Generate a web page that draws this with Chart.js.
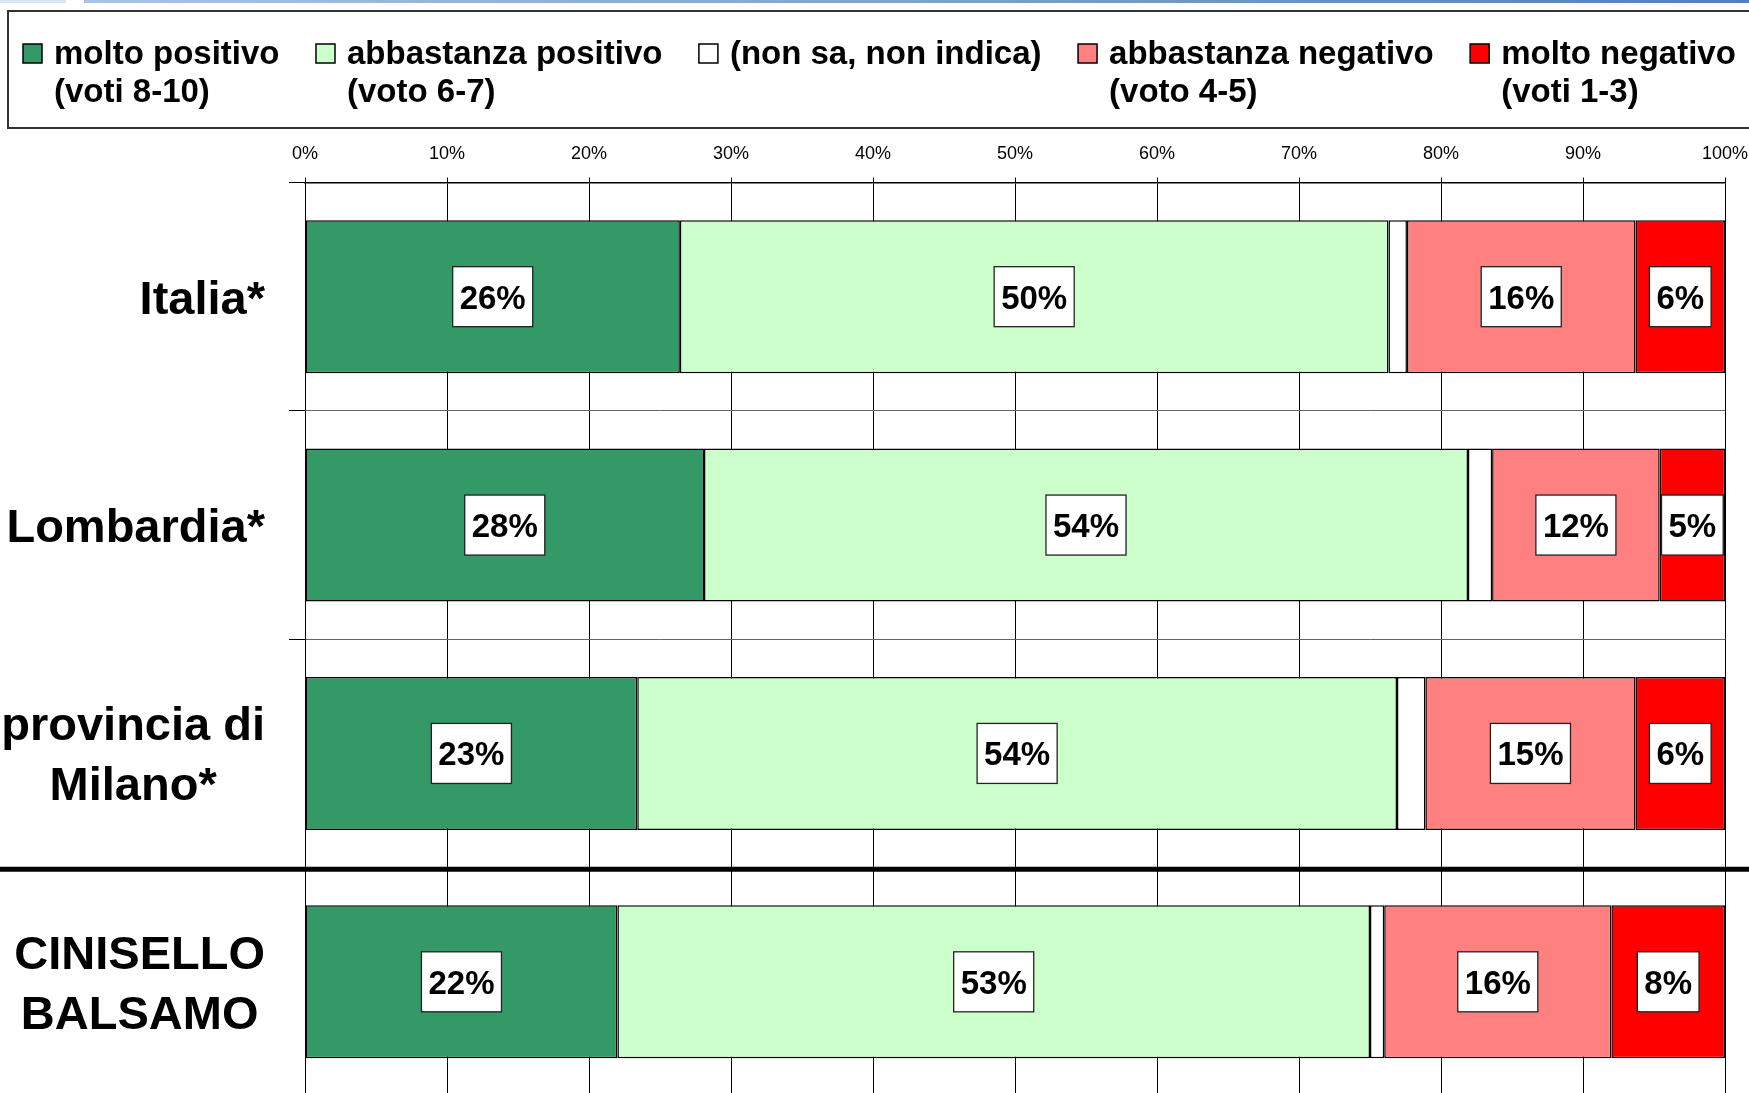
<!DOCTYPE html>
<html><head><meta charset="utf-8">
<script src="https://cdn.jsdelivr.net/npm/chart.js@4/dist/chart.umd.min.js"></script>
<style>
html,body{margin:0;padding:0;background:#fff;overflow:hidden;}
#wrap{position:relative;width:1749px;height:1100px;}
#topbar{position:absolute;left:84px;top:0;width:1665px;height:3px;background:linear-gradient(to right,#a9c3e6,#4f81bd);}
#topleft{position:absolute;left:0;top:0;width:66px;height:3px;background:#dde6f0;}
canvas{position:absolute;left:0;top:0;}
</style></head><body>
<div id="wrap"><canvas id="c" width="1749" height="1100"></canvas><div id="topleft"></div><div id="topbar"></div></div>
<script>
// ---- data ----
const categoryLines = [['Italia*'], ['Lombardia*'], ['provincia di', 'Milano*'], ['CINISELLO', 'BALSAMO']];
const seriesLegend = [
  ['molto positivo', '(voti 8-10)'],
  ['abbastanza positivo', '(voto 6-7)'],
  ['(non sa, non indica)'],
  ['abbastanza negativo', '(voto 4-5)'],
  ['molto negativo', '(voti 1-3)']
];
const moltoPositivo      = [26.4, 28.1, 23.4, 22.0];
const abbastanzaPositivo = [49.9, 53.8, 53.5, 53.0];
const nonSa              = [1.3, 1.7, 2.0, 1.0];
const abbastanzaNegativo = [16.1, 11.8, 14.8, 16.0];
const moltoNegativo      = [6.3, 4.6, 6.3, 8.0];
const xTickValues = [0, 10, 20, 30, 40, 50, 60, 70, 80, 90, 100];
const seriesColors = ['#339966', '#CCFFCC', '#FFFFFF', '#FF8080', '#FF0000'];

const FONT = "'Liberation Sans', Arial, Helvetica, sans-serif";
const seriesValues = [moltoPositivo, abbastanzaPositivo, nonSa, abbastanzaNegativo, moltoNegativo];

const datasets = seriesValues.map((vals, i) => ({
  label: seriesLegend[i].join(' '),
  legendLines: seriesLegend[i],
  data: vals,
  backgroundColor: seriesColors[i],
  borderColor: '#000',
  borderWidth: 1.5,
  borderSkipped: false,
  barPercentage: 0.67,
  categoryPercentage: 1.0,
  showLabels: i !== 2
}));

const customDraw = {
  id: 'customDraw',
  afterDatasetsDraw(chart) {
    const ctx = chart.ctx;
    ctx.save();
    ctx.font = 'bold 33px ' + FONT;
    ctx.textAlign = 'center';
    ctx.textBaseline = 'alphabetic';
    chart.data.datasets.forEach((ds, di) => {
      if (!ds.showLabels) return;
      const meta = chart.getDatasetMeta(di);
      meta.data.forEach((el, j) => {
        const v = ds.data[j];
        const txt = Math.round(v) + '%';
        const cx = (el.x + el.base) / 2;
        const cy = el.y;
        const w = ctx.measureText(txt).width + 14;
        const h = 60;
        ctx.fillStyle = '#fff';
        ctx.fillRect(cx - w / 2, cy - h / 2, w, h);
        ctx.lineWidth = 1.3;
        ctx.strokeStyle = '#222';
        ctx.strokeRect(cx - w / 2, cy - h / 2, w, h);
        ctx.fillStyle = '#000';
        ctx.fillText(txt, cx, cy + 12);
      });
    });
    ctx.restore();
  },
  afterDraw(chart) {
    const ctx = chart.ctx;
    const ys = chart.scales.y;
    ctx.save();
    // category labels
    ctx.fillStyle = '#000';
    ctx.font = 'bold 47px ' + FONT;
    ctx.textAlign = 'center';
    ctx.textBaseline = 'alphabetic';
    const right = 265, lh = 60, cap = 47 * 0.716;
    categoryLines.forEach((lines, i) => {
      const cy = ys.getPixelForValue(i);
      const maxW = Math.max(...lines.map(l => ctx.measureText(l).width));
      const cx = right - maxW / 2;
      lines.forEach((l, k) => {
        const ly = cy + (k - (lines.length - 1) / 2) * lh;
        ctx.fillText(l, cx, ly + cap / 2);
      });
    });
    // thick separator line
    const sep = (ys.getPixelForValue(2) + ys.getPixelForValue(3)) / 2 + 1.5;
    ctx.beginPath();
    ctx.lineWidth = 5;
    ctx.strokeStyle = '#000';
    ctx.moveTo(0, sep);
    ctx.lineTo(chart.width, sep);
    ctx.stroke();
    // legend box
    ctx.lineWidth = 2;
    ctx.strokeStyle = '#333';
    ctx.strokeRect(8, 11, chart.width + 20, 117);
    // legend items
    ctx.font = 'bold 33px ' + FONT;
    ctx.textAlign = 'left';
    let x = 23;
    chart.data.datasets.forEach((ds) => {
      ctx.fillStyle = ds.backgroundColor;
      ctx.fillRect(x, 44, 19, 19);
      ctx.lineWidth = 1.5;
      ctx.strokeStyle = '#000';
      ctx.strokeRect(x, 44, 19, 19);
      ctx.fillStyle = '#000';
      let maxW = 0;
      ds.legendLines.forEach((l, k) => {
        ctx.fillText(l, x + 31, 64 + k * 38);
        maxW = Math.max(maxW, ctx.measureText(l).width);
      });
      x = x + 31 + maxW + 36.5;
    });
    ctx.restore();
  }
};

new Chart(document.getElementById('c'), {
  type: 'bar',
  data: { labels: categoryLines.map(l => l.join(' ')), datasets },
  options: {
    indexAxis: 'y',
    responsive: false,
    animation: false,
    devicePixelRatio: 1,
    layout: { padding: { top: 0, left: 0, right: 24, bottom: 4 } },
    plugins: { legend: { display: false }, tooltip: { enabled: false } },
    scales: {
      x: {
        position: 'top',
        stacked: true,
        min: 0, max: 100,
        afterBuildTicks: (s) => { s.ticks = xTickValues.map(v => ({ value: v })); },
        afterFit: (s) => { s.height = 182.5; s.paddingLeft = 0; s.paddingRight = 0; },
        ticks: {
          callback: (v) => v + '%',
          color: '#000',
          font: { family: FONT, size: 18 },
          padding: 13,
          maxRotation: 0
        },
        grid: { color: '#000', lineWidth: 1, tickLength: 5, drawTicks: true, tickColor: '#000' },
        border: { display: true, color: '#000', width: 1.5 }
      },
      y: {
        stacked: true,
        offset: true,
        afterFit: (s) => { s.width = 305; s.paddingTop = 0; s.paddingBottom = 0; },
        ticks: { display: false },
        grid: { offset: true, color: '#666', lineWidth: 1, tickLength: 16, drawTicks: true, tickColor: '#000' },
        border: { display: true, color: '#000', width: 1 }
      }
    }
  },
  plugins: [customDraw]
});
</script>
</body></html>
